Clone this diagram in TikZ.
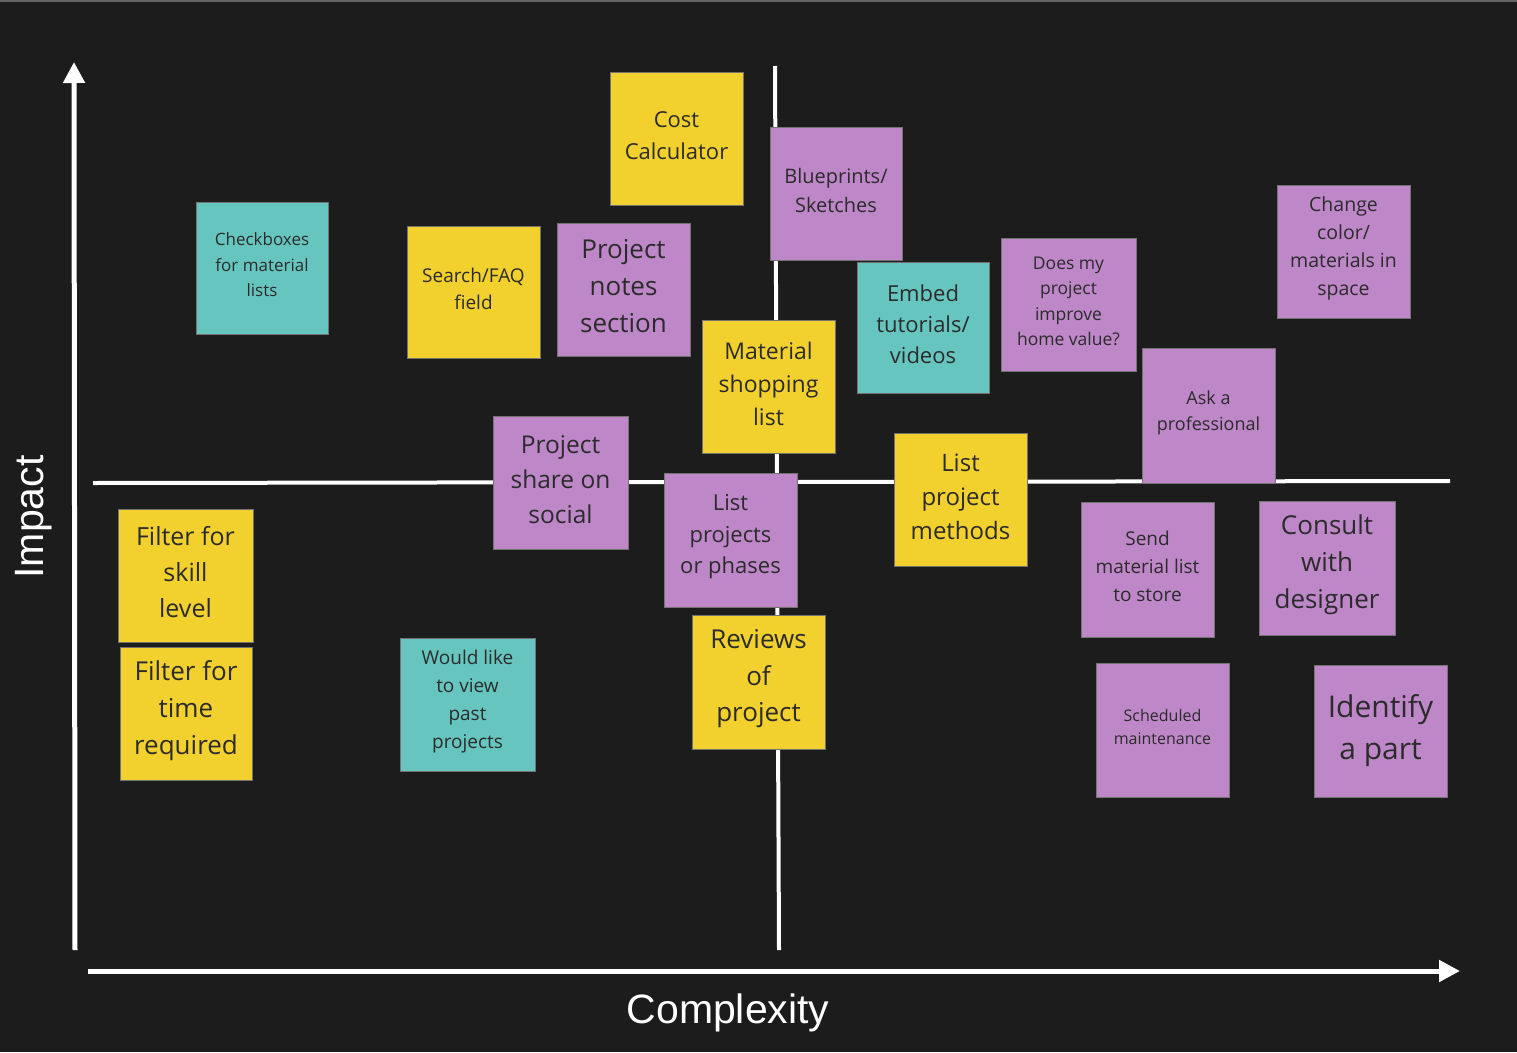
\documentclass[tikz,border=0pt]{standalone}
\usepackage{fontspec}
\setmainfont{Open Sans}
\newfontfamily\axisfont{Liberation Sans}
\usetikzlibrary{arrows.meta}
\definecolor{bg}{HTML}{1C1C1C}
\definecolor{nyellow}{HTML}{F2D12E}
\definecolor{npurple}{HTML}{BE87C8}
\definecolor{nteal}{HTML}{66C6BF}
\definecolor{ntext}{HTML}{2B2B2B}
\tikzset{
  note/.style={draw=black!55, line width=0.8pt, text=ntext, align=center, inner sep=0pt, anchor=center},
  ynote/.style={note, fill=nyellow},
  pnote/.style={note, fill=npurple},
  tnote/.style={note, fill=nteal},
  notetext/.style={text=ntext, align=center, inner sep=0pt, anchor=center},
  axisline/.style={draw=white, line width=5pt, -{Triangle[length=21pt,width=21pt]}},
  quadline/.style={draw=white, line width=4pt},
  axislabel/.style={text=white, font=\axisfont\fontsize{41}{48}\selectfont, inner sep=0pt}
}
% box from corners: #1 name, #2 style, #3 x1, #4 y1, #5 x2, #6 y2, #7 font size, #8 leading, #9 text
\newcommand{\sticky}[9]{%
  \node[#2, minimum width={(#5-#3)*1pt}, minimum height={(#6-#4)*1pt}] (#1) at ({(#3+#5)/2},{(#4+#6)/2}) {};
  \node[notetext, yshift=\stickyshift, font=\fontsize{#7}{#8}\selectfont] (#1-t) at (#1.center) {#9};}
\newcommand{\stickyshift}{3pt}
\begin{document}
\begin{tikzpicture}[x=1pt,y=-1pt]
\fill[bg] (0,0) rectangle (1517,1052);
\useasboundingbox (0,0) rectangle (1517,1052);
\fill[black!60] (0,0) rectangle (1517,2);
% quadrant lines
\coordinate (qt) at (775,66);
\coordinate (qb) at (779,950);
\coordinate (ql) at (93,483);
\coordinate (qr) at (1450,481);
\draw[quadline] (qt) -- (qb);
\draw[quadline] (ql) -- (qr);
% axes
\coordinate (yo) at (75,950);
\coordinate (yt) at (74,62);
\coordinate (xo) at (88,971);
\coordinate (xt) at (1460,971);
\draw[axisline] (yo) -- (yt);
\draw[axisline] (xo) -- (xt);
\node[axislabel, rotate=90] (impact) at (34,517) {Impact};
\node[axislabel] (complexity) at (728,1013) {Complexity};
% notes
\sticky{cost}{ynote}{610}{72}{743}{205}{22}{32}{Cost\\Calculator}
\sticky{blue}{pnote}{770}{127}{902}{260}{20}{29}{Blueprints/\\Sketches}
\sticky{check}{tnote}{196}{202}{328}{334}{17}{25.5}{Checkboxes\\for material\\lists}
\sticky{search}{ynote}{407}{226}{540}{358}{19}{27}{Search/FAQ\\field}
\sticky{pnotes}{pnote}{557}{223}{690}{356}{26}{37}{Project\\notes\\section}
\sticky{shop}{ynote}{702}{320}{835}{453}{23}{33}{Material\\shopping\\list}
\sticky{embed}{tnote}{857}{262}{989}{393}{22}{31}{Embed\\tutorials/\\videos}
\sticky{value}{pnote}{1001}{238}{1136}{371}{17.5}{25.3}{Does my\\project\\improve\\home value?}
\sticky{change}{pnote}{1277}{185}{1410}{318}{19.5}{28}{Change\\color/\\materials in\\space}
\sticky{ask}{pnote}{1142}{348}{1275}{483}{18}{26}{Ask a\\professional}
\sticky{share}{pnote}{493}{416}{628}{549}{24.5}{35}{Project\\share on\\social}
\sticky{phases}{pnote}{664}{473}{797}{607}{22}{31.5}{List\\projects\\or phases}
\sticky{methods}{ynote}{894}{433}{1027}{566}{24}{34}{List\\project\\methods}
\sticky{skill}{ynote}{118}{509}{253}{642}{25}{36}{Filter for\\skill\\level}
\sticky{time}{ynote}{120}{647}{252}{780}{26}{37}{Filter for\\time\\required}
\sticky{past}{tnote}{400}{638}{535}{771}{19}{28}{Would like\\to view\\past\\projects}
\sticky{reviews}{ynote}{692}{615}{825}{749}{26}{36.5}{Reviews\\of\\project}
\sticky{send}{pnote}{1081}{502}{1214}{637}{19}{28}{Send\\material list\\to store}
\sticky{consult}{pnote}{1259}{501}{1395}{635}{26}{37}{Consult\\with\\designer}
\sticky{sched}{pnote}{1096}{663}{1229}{797}{16}{23}{Scheduled\\maintenance}
\renewcommand{\stickyshift}{0pt}
\sticky{part}{pnote}{1314}{665}{1447}{797}{30}{42}{Identify\\a part}
\end{tikzpicture}
\end{document}
